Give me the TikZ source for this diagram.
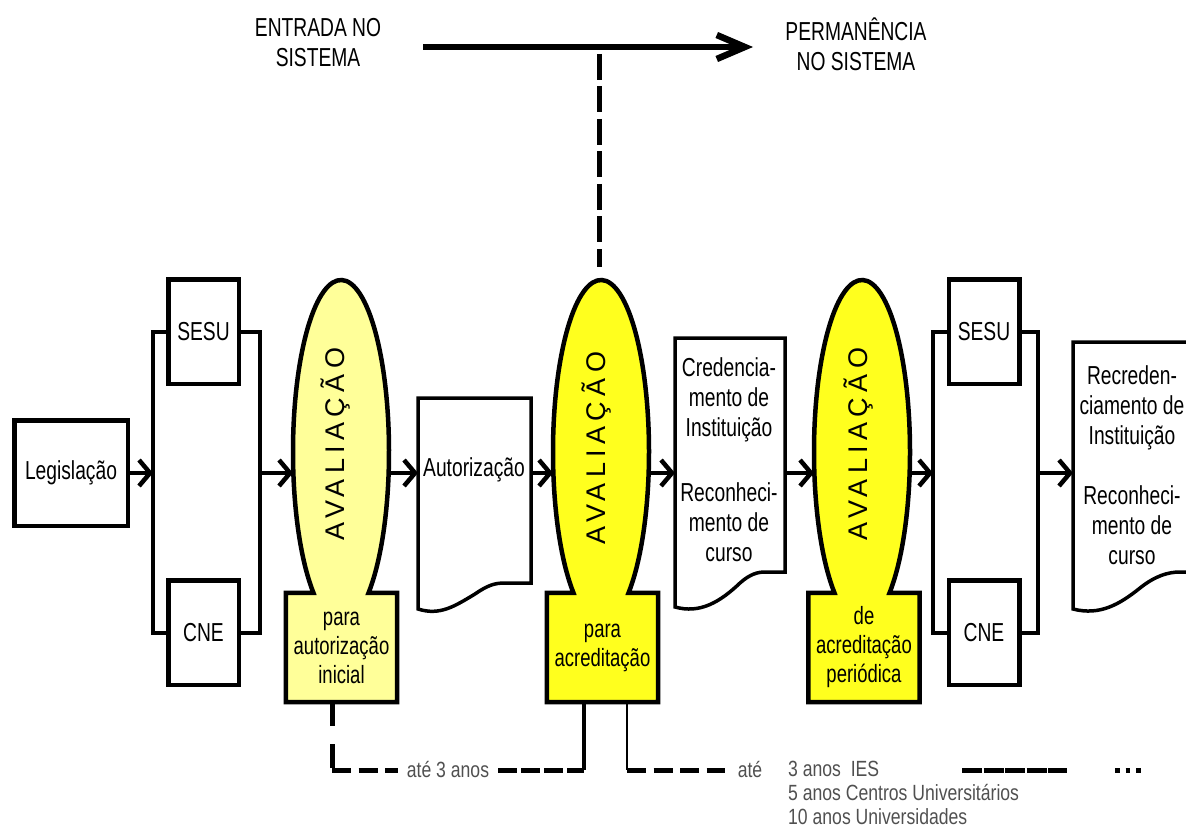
\documentclass[tikz,border=0pt]{standalone}
\usepackage{fontspec}
\setmainfont{Liberation Sans}[FakeStretch=0.74]
\newfontfamily\avfont{Liberation Sans}[LetterSpace=20]
\newfontfamily\notefont{Liberation Sans}[FakeStretch=0.8]
\usetikzlibrary{arrows.meta,shapes.geometric,calc,backgrounds}
\definecolor{paleyellow}{HTML}{FFFF99}
\definecolor{vividyellow}{HTML}{FFFF1E}
\definecolor{notegray}{HTML}{505050}

\begin{document}
\begin{tikzpicture}[x=1pt,y=-1pt,
  txt/.style={font=\fontsize{26}{30}\selectfont, align=center, inner sep=0pt},
  orgbox/.style={draw, line width=4.5pt, minimum width=70.5pt, minimum height=104.5pt, inner sep=0pt, txt},
  legbox/.style={draw, line width=4.5pt, minimum width=113.5pt, minimum height=105.5pt, inner sep=0pt, txt},
  bracket/.style={line width=4pt},
  flow/.style={line width=4.5pt, -{Straight Barb[length=11pt,width=26pt]}},
  bigflow/.style={line width=6.5pt, -{Straight Barb[length=28pt,width=24pt]}},
  avnode/.style={ellipse, minimum width=96pt, minimum height=344pt, inner sep=0pt, outer sep=0pt},
  avtext/.style={rotate=90, anchor=base, inner sep=0pt, font=\avfont\fontsize{27}{30}\selectfont},
  stepbox/.style={minimum width=111pt, minimum height=109pt, inner sep=0pt, txt, font=\fontsize{25}{29}\selectfont},
  evalshape/.style={draw, line width=4.5pt, line join=miter},
  docline/.style={draw, line width=3.5pt, line join=miter},
  docarea/.style={inner sep=0pt, outer sep=0pt},
  note/.style={inner sep=0pt, text=notegray, font=\notefont\fontsize{22}{24}\selectfont},
  dashv/.style={line width=5pt, dash pattern=on 24pt off 18pt},
  dashh/.style={line width=5pt, dash pattern=on 19pt off 7.5pt},
  dashtight/.style={line width=5pt, dash pattern=on 19pt off 4pt},
]
\useasboundingbox (0,0) rectangle (1186,829);

% ---- header ----
\node[txt] (entrada) at (318,43) {ENTRADA NO\\SISTEMA};
\node[txt] (perman) at (856,44) {PERMANÊNCIA\\NO SISTEMA};
\coordinate (hstart) at (423,47);
\coordinate (hend) at (753,47);
\draw[bigflow] (hstart) -- (hend);

% ---- first approval stage ----
\node[legbox] (leg) at (71,473) {Legislação};
\node[orgbox] (sesu1) at (203.5,331.5) {SESU};
\node[orgbox] (cne1) at (203.5,632.5) {CNE};
\coordinate (j1) at (153,473);
\coordinate (j2) at (260,473);
\draw[bracket] (sesu1.west) -| (j1) |- (cne1.west);
\draw[bracket] (sesu1.east) -| (j2) |- (cne1.east);

% ---- evaluation stages (ellipse + label box) ----
\node[avnode] (av1) at (341,452) {};
\node[avnode] (av2) at (601,452) {};
\node[avnode] (av3) at (862,452) {};
\node[stepbox] (bx1) at (341.5,647.5) {para\\autorização\\inicial};
\node[stepbox] (bx2) at (602.5,647.5) {para\\acreditação};
\node[stepbox] (bx3) at (864,647.5) {de\\acreditação\\periódica};
\node[avtext] (avt1) at (344,444) {AVALIAÇÃO};
\node[avtext] (avt2) at (605,448) {AVALIAÇÃO};
\node[avtext] (avt3) at (867,444) {AVALIAÇÃO};

\begin{scope}[on background layer]
  \filldraw[evalshape, fill=paleyellow] (bx1.south west) -- (bx1.north west)
    -- ($(av1.center)+(125:48 and 172)$)
    arc[start angle=125, end angle=415, x radius=48, y radius=172]
    -- (bx1.north east) -- (bx1.south east) -- cycle;
  \filldraw[evalshape, fill=vividyellow] (bx2.south west) -- (bx2.north west)
    -- ($(av2.center)+(125:48 and 172)$)
    arc[start angle=125, end angle=415, x radius=48, y radius=172]
    -- (bx2.north east) -- (bx2.south east) -- cycle;
  \filldraw[evalshape, fill=vividyellow] (bx3.south west) -- (bx3.north west)
    -- ($(av3.center)+(125:48 and 172)$)
    arc[start angle=125, end angle=415, x radius=48, y radius=172]
    -- (bx3.north east) -- (bx3.south east) -- cycle;
\end{scope}

% ---- documents ----
\node[docarea, minimum width=113pt, minimum height=185pt] (aut) at (474.5,490.5) {};
\node[txt] (autt) at (474,470) {Autorização};
\draw[docline] (aut.south east) -- (aut.north east) -- (aut.north west) -- (418,609)
  .. controls (440,616) and (455,606) .. (475,594)
  .. controls (488,585) and (495,583) .. (505,583) -- cycle;

\node[docarea, minimum width=110pt, minimum height=234pt] (cred) at (730,455) {};
\node[txt] (credt) at (729,460) {Credencia-\\mento de\\Instituição\\[35pt]Reconheci-\\mento de\\curso};
\draw[docline] (cred.south east) -- (cred.north east) -- (cred.north west) -- (675,607)
  .. controls (700,614) and (720,602) .. (740,583)
  .. controls (750,574) and (758,572) .. (765,572) -- cycle;

% the last document runs past the right edge of the page
\node[docarea, minimum width=137pt, minimum height=230pt] (rec) at (1141.5,457) {};
\node[txt] (rect) at (1132,465) {Recreden-\\ciamento de\\Instituição\\[30pt]Reconheci-\\mento de\\curso};
\draw[docline] (rec.south east) -- (rec.north east) -- (rec.north west) -- (1073,609)
  .. controls (1100,616) and (1120,604) .. (1140,588)
  .. controls (1155,576) and (1168,572) .. (1180,572) -- cycle;

% ---- second bodies ----
\node[orgbox] (sesu2) at (984,331.5) {SESU};
\node[orgbox] (cne2) at (984,632.5) {CNE};
\coordinate (j3) at (933,473);
\coordinate (j4) at (1038,473);
\draw[bracket] (sesu2.west) -| (j3) |- (cne2.west);
\draw[bracket] (sesu2.east) -| (j4) |- (cne2.east);

% ---- main flow ----
\draw[flow] (leg.east) -- (j1);
\draw[flow] (j2) -- (j2 -| av1.west);
\draw[flow] (av1.east |- j2) -- (j2 -| aut.west);
\draw[flow] (aut.east |- j2) -- (j2 -| av2.west);
\draw[flow] (av2.east |- j2) -- (j2 -| cred.west);
\draw[flow] (cred.east |- j2) -- (j2 -| av3.west);
\draw[flow] (av3.east |- j2) -- (j3);
\draw[flow] (j4) -- (j4 -| rec.west);

% ---- link from the header arrow to the accreditation stage ----
\coordinate (hdrop) at (599,54);
\draw[line width=5pt, dash pattern=on 26pt off 6.5pt] (hdrop) -- (hdrop |- 0,267);

% ---- time limits ----
\node[note, inner xsep=9pt] (ate1) at (448,770) {até 3 anos};
\coordinate (b1) at ([xshift=-9.5pt]bx1.south);
\coordinate (b2) at ([xshift=-18.5pt]bx2.south);
\coordinate (b3) at ([xshift=24.5pt]bx2.south);
\draw[dashv] (b1) -- (b1 |- ate1);
\draw[dashh] (b1 |- ate1) -- (ate1.west);
\draw[dashtight] (ate1.east) -- (b2 |- ate1);
\draw[line width=4pt] (b2 |- ate1) -- (b2);
\draw[line width=2pt] (b3) -- (b3 |- ate1);
\coordinate (d2end) at (725,770);
\draw[dashh] (b3 |- ate1) -- (d2end);
\node[note, anchor=base] (ate2) at (750,777) {até};
\node[note, anchor=north west, align=left] (periods) at (788,761)
  {3 anos\ \ IES\\5 anos Centros Universitários\\10 anos Universidades};
\coordinate (t1) at (962,770);
\coordinate (t2) at (1067,770);
\coordinate (t3) at (1115,770);
\coordinate (t4) at (1142,770);
\draw[line width=5pt, dash pattern=on 20pt off 1.5pt] (t1) -- (t2);
\draw[line width=5pt, dash pattern=on 4.5pt off 6pt] (t3) -- (t4);
\end{tikzpicture}
\end{document}
